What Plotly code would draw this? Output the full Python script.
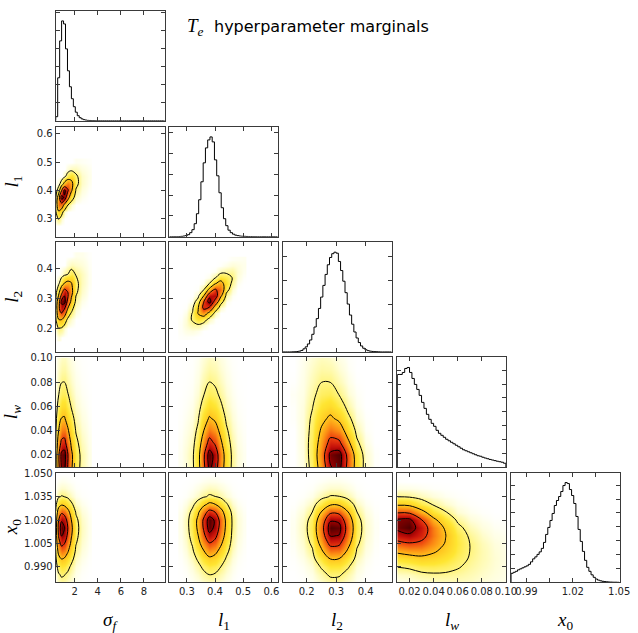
import numpy as np
import plotly.graph_objects as go

# ---------------- 1D marginal histograms (heights relative to peak) ----------------
sf_hist_lo, sf_hist_w = 0.35, 0.17
sf_hist = [0.04, 0.43, 0.80, 1.0, 0.97, 0.72, 0.50, 0.34, 0.22, 0.14, 0.085, 0.05,
           0.03, 0.018, 0.01, 0.006, 0.003, 0.002, 0.001, 0.001, 0, 0, 0, 0,
           0, 0, 0, 0, 0, 0, 0, 0, 0, 0, 0, 0, 0, 0, 0, 0,
           0, 0, 0, 0, 0, 0, 0, 0, 0, 0, 0, 0, 0, 0, 0, 0]

l1_hist_lo, l1_hist_w = 0.238, 0.008
l1_hist = [0, 0, 0, 0, 0.001, 0.003, 0.006, 0.011, 0.02, 0.04, 0.07, 0.13,
           0.23, 0.37, 0.55, 0.74, 0.89, 0.97, 1.0, 0.95, 0.77, 0.61, 0.44, 0.29,
           0.18, 0.11, 0.065, 0.04, 0.025, 0.015, 0.01, 0.006, 0.004, 0.003, 0.002, 0.001,
           0.001, 0, 0, 0, 0, 0, 0, 0, 0, 0, 0, 0]

l2_hist_lo, l2_hist_w = 0.12, 0.0075
l2_hist = [0, 0, 0, 0, 0.001, 0.002, 0.004, 0.008, 0.015, 0.031, 0.051, 0.08,
           0.12, 0.177, 0.25, 0.334, 0.436, 0.55, 0.667, 0.777, 0.874, 0.947, 0.985, 1.0,
           0.99, 0.907, 0.816, 0.709, 0.594, 0.48, 0.37, 0.278, 0.20, 0.14, 0.094, 0.06,
           0.037, 0.022, 0.013, 0.008, 0.005, 0.003, 0.002, 0.001, 0, 0, 0, 0, 0]

lw_hist_lo, lw_hist_w = 0.010, 0.002
lw_hist = [0.93, 0.93, 0.95, 0.99, 1.0, 0.95, 0.89, 0.83, 0.78, 0.72, 0.65, 0.59,
           0.53, 0.48, 0.44, 0.41, 0.37, 0.34, 0.32, 0.30, 0.28, 0.265, 0.25, 0.235,
           0.22, 0.205, 0.19, 0.175, 0.165, 0.155, 0.145, 0.135, 0.125, 0.115, 0.11, 0.10,
           0.092, 0.085, 0.078, 0.072, 0.066, 0.06, 0.055, 0.05, 0.04]

x0_hist_lo, x0_hist_w = 0.98, 0.0014
x0_hist = [0.09, 0.10, 0.11, 0.125, 0.135, 0.145, 0.155, 0.165, 0.18, 0.205, 0.235, 0.255,
           0.28, 0.305, 0.34, 0.40, 0.48, 0.55, 0.62, 0.69, 0.77, 0.82, 0.86, 0.91,
           0.97, 1.0, 0.99, 0.93, 0.87, 0.79, 0.66, 0.53, 0.41, 0.31, 0.22, 0.15,
           0.11, 0.075, 0.05, 0.033, 0.022, 0.015, 0.01, 0.007, 0.005, 0.003, 0.002, 0.001,
           0.001, 0.0]

# ---------------- 2D density grids (arbitrary units) ----------------
sf_grid = [0.35, 0.6, 0.85, 1.1, 1.4, 1.7, 2.1, 2.6, 3.2]
l1_grid = [0.28, 0.30, 0.32, 0.34, 0.36, 0.38, 0.40, 0.42, 0.44, 0.46, 0.48, 0.50]
l2_grid = [0.16, 0.19, 0.22, 0.25, 0.28, 0.31, 0.34, 0.37, 0.40, 0.43]
lw_grid = [0.01, 0.02, 0.03, 0.04, 0.05, 0.06, 0.07, 0.08, 0.09, 0.10]
x0_grid = [0.98, 0.985, 0.99, 0.995, 1.0, 1.005, 1.01, 1.015, 1.02, 1.025, 1.03, 1.035, 1.04, 1.045, 1.05]

# (sigma_f, l1): rows = l1 values, cols = sf_grid
A_l1_rows = [0.275, 0.30, 0.325, 0.35, 0.375, 0.40, 0.425, 0.45, 0.475, 0.50]
A_z = [
    [0, 0, 0, 0, 0, 0, 0, 0, 0],
    [2, 5, 1, 0, 0, 0, 0, 0, 0],
    [3, 20, 9, 1, 0, 0, 0, 0, 0],
    [5, 45, 43, 19, 5, 1, 0, 0, 0],
    [3, 38, 92, 77, 31, 9, 1.5, 0.3, 0],
    [1, 9, 53, 88, 59, 26, 4, 0.8, 0.1],
    [0, 1, 8, 27, 40, 30, 7, 1.5, 0.3],
    [0, 0, 0, 2, 9, 14, 6, 1.5, 0.4],
    [0, 0, 0, 0, 1, 2, 2, 0.8, 0.3],
    [0, 0, 0, 0, 0, 0, 0.3, 0.2, 0.1],
]

# (sigma_f, l2): rows = l2 values, cols = sf_grid
B_l2_rows = [0.17, 0.20, 0.23, 0.26, 0.29, 0.32, 0.35, 0.38, 0.41, 0.44]
B_z = [
    [0, 1, 0, 0, 0, 0, 0, 0, 0],
    [1, 5, 4, 1, 0, 0, 0, 0, 0],
    [3, 24, 25, 12, 3, 1, 0, 0, 0],
    [5, 48, 72, 52, 17, 6, 1, 0, 0],
    [4, 42, 90, 96, 48, 19, 3, 0.5, 0],
    [1, 16, 49, 77, 58, 31, 6, 1.5, 0.1],
    [0, 3, 12, 25, 31, 26, 7, 2, 0.3],
    [0, 0, 1, 3, 5, 9, 4.5, 2, 0.3],
    [0, 0, 0, 0, 1, 2, 1.5, 1, 0.2],
    [0, 0, 0, 0, 0, 0, 0.4, 0.4, 0.1],
]

# (l1, l2): rows = l2 values, cols = l1_grid
C_l2_rows = [0.17, 0.19, 0.21, 0.23, 0.25, 0.27, 0.29, 0.31, 0.33, 0.35, 0.37, 0.39, 0.41, 0.43]
C_z = [
    [0.1, 0.15, 0.1, 0, 0, 0, 0, 0, 0, 0, 0, 0],
    [0.2, 0.6, 0.8, 0.4, 0, 0, 0, 0, 0, 0, 0, 0],
    [0.2, 1.2, 3.1, 3.6, 1.3, 0.1, 0, 0, 0, 0, 0, 0],
    [0.1, 1.1, 5.9, 14, 10, 2, 0.1, 0, 0, 0, 0, 0],
    [0, 0.5, 5.3, 26, 39, 16, 2, 0, 0, 0, 0, 0],
    [0, 0.1, 2.2, 22, 68, 58, 14, 1.3, 0, 0, 0, 0],
    [0, 0, 0.4, 9, 57, 98, 49, 9, 0.4, 0, 0, 0],
    [0, 0, 0, 1.7, 22, 78, 80, 30, 2.7, 0.2, 0, 0],
    [0, 0, 0, 0.15, 4, 29, 62, 47, 8.6, 1.1, 0, 0],
    [0, 0, 0, 0, 0.35, 5, 22, 35, 13, 3.4, 0.3, 0],
    [0, 0, 0, 0, 0, 0.4, 3.7, 12, 9.2, 5, 0.85, 0.1],
    [0, 0, 0, 0, 0, 0, 0.3, 2, 3.1, 3.4, 1.2, 0.3],
    [0, 0, 0, 0, 0, 0, 0, 0.1, 0.5, 1.1, 0.8, 0.4],
    [0, 0, 0, 0, 0, 0, 0, 0, 0, 0.2, 0.25, 0.3],
]

# separable panels: profile along each axis
D_sf_prof = [0.06, 0.55, 0.95, 1.0, 0.62, 0.3, 0.1, 0.03, 0.006]
lw_prof_2d = [0.95, 1.0, 0.7, 0.45, 0.27, 0.15, 0.085, 0.05, 0.03, 0.018]
E_l1_prof = [0.003, 0.012, 0.03, 0.15, 0.55, 1.0, 0.8, 0.42, 0.14, 0.04, 0.01, 0.003]
G_sf_prof = [0.1, 0.7, 1.0, 0.9, 0.6, 0.3, 0.08, 0.02, 0.004]
x0_prof_2d = [0.03, 0.06, 0.12, 0.25, 0.45, 0.68, 0.9, 1.0, 0.85, 0.55, 0.22, 0.055, 0.015, 0.004, 0]
H_l1_prof = [0.005, 0.025, 0.1, 0.3, 0.65, 1.0, 0.85, 0.5, 0.2, 0.05, 0.012, 0.003]
H_x0_prof = [0.02, 0.05, 0.1, 0.2, 0.36, 0.57, 0.8, 0.96, 0.98, 0.7, 0.3, 0.06, 0.02, 0.005, 0]
I_l2_prof = [0.003, 0.02, 0.09, 0.45, 0.95, 0.92, 0.45, 0.09, 0.015, 0.002]

# (l2, lw): rows = lw_grid, cols = l2_grid
F_z = [
    [0, 0.7, 7, 34, 81, 91, 49, 13, 1.6, 0.1],
    [0, 0.8, 8, 39, 88, 94, 49, 12, 1.4, 0.1],
    [0, 0.9, 8, 33, 65, 62, 28, 6, 0.6, 0],
    [0, 0.9, 7, 26, 44, 36, 14, 2.7, 0.2, 0],
    [0.1, 0.9, 6, 18, 27, 19, 6.5, 1, 0.1, 0],
    [0.1, 0.8, 4.4, 11.6, 15, 9, 2.7, 0.4, 0, 0],
    [0.2, 0.6, 3.1, 7.2, 8.2, 4.4, 1.1, 0.2, 0, 0],
    [0.05, 0.5, 2.2, 4.6, 4.6, 2.2, 0.5, 0.05, 0, 0],
    [0, 0.4, 1.6, 2.9, 2.6, 1.1, 0.2, 0, 0, 0],
    [0, 0.3, 1.1, 1.8, 1.4, 0.5, 0.1, 0, 0, 0],
]

# (lw, x0): rows = x0_grid, cols = lw_grid
J_z = [
    [0.4, 0.5, 1.1, 1.5, 1.75, 1.8, 1.6, 1.0, 0.64, 0.4],
    [1.6, 2, 3.3, 4, 3.9, 3.4, 2.4, 1.5, 0.88, 0.5],
    [5.1, 6, 8.6, 8.9, 7.7, 5.5, 3.4, 2.0, 1.1, 0.55],
    [13, 15.5, 18.7, 17, 12.8, 7.9, 4.3, 2.4, 1.2, 0.6],
    [28.5, 33, 34, 27, 18.6, 9.9, 4.9, 2.5, 1.1, 0.55],
    [51, 57, 53, 38, 23, 10.9, 4.9, 2.2, 0.88, 0.45],
    [75, 82, 69, 44, 25, 10.2, 3.8, 1.5, 0.5, 0.3],
    [92, 98, 75, 43, 21, 7, 2.25, 0.8, 0.24, 0.15],
    [90, 92, 60, 29, 12.5, 3.6, 1.0, 0.34, 0.08, 0.05],
    [56, 54, 31, 13, 5.3, 1.3, 0.34, 0.1, 0, 0],
    [21, 19, 10, 4.1, 1.6, 0.4, 0.1, 0, 0, 0],
    [4.7, 4, 2.1, 0.9, 0.3, 0.1, 0, 0, 0, 0],
    [0.6, 0.5, 0.3, 0.1, 0.05, 0, 0, 0, 0, 0],
    [0.05, 0, 0, 0, 0, 0, 0, 0, 0, 0],
    [0, 0, 0, 0, 0, 0, 0, 0, 0, 0],
]

contour_levels = [0.05, 0.25, 0.6, 0.88]

# ---------------- axes description ----------------
params = ["sf", "l1", "l2", "lw", "x0"]
axis_range = {"sf": [0.35, 9.8], "l1": [0.2375, 0.624], "l2": [0.12, 0.489],
              "lw": [0.0098, 0.1002], "x0": [0.98, 1.0505]}
tick_vals_x = {"sf": [2, 4, 6, 8], "l1": [0.3, 0.4, 0.5, 0.6], "l2": [0.2, 0.3, 0.4],
               "lw": [0.02, 0.04, 0.06, 0.08, 0.10], "x0": [0.99, 1.02, 1.05]}
tick_text_x = {"sf": ["2", "4", "6", "8"], "l1": ["0.3", "0.4", "0.5", "0.6"],
               "l2": ["0.2", "0.3", "0.4"], "lw": ["0.02", "0.04", "0.06", "0.08", "0.10"],
               "x0": ["0.99", "1.02", "1.05"]}
tick_vals_y = {"sf": [2, 4, 6, 8], "l1": [0.3, 0.4, 0.5, 0.6], "l2": [0.2, 0.3, 0.4],
               "lw": [0.02, 0.04, 0.06, 0.08, 0.10], "x0": [0.99, 1.005, 1.02, 1.035, 1.05]}
tick_text_y = {"sf": ["2", "4", "6", "8"], "l1": ["0.3", "0.4", "0.5", "0.6"],
               "l2": ["0.2", "0.3", "0.4"], "lw": ["0.02", "0.04", "0.06", "0.08", "0.10"],
               "x0": ["0.990", "1.005", "1.020", "1.035", "1.050"]}
hist_dtick = {"sf": 0.181, "l1": 0.208, "l2": 0.238, "lw": 0.139, "x0": 0.139}
labels = {"sf": "<i>σ</i><sub><i>f</i></sub>", "l1": "<i>l</i><sub>1</sub>",
          "l2": "<i>l</i><sub>2</sub>", "lw": "<i>l</i><sub><i>w</i></sub>",
          "x0": "<i>x</i><sub>0</sub>"}

hists = {"sf": (sf_hist_lo, sf_hist_w, sf_hist), "l1": (l1_hist_lo, l1_hist_w, l1_hist),
         "l2": (l2_hist_lo, l2_hist_w, l2_hist), "lw": (lw_hist_lo, lw_hist_w, lw_hist),
         "x0": (x0_hist_lo, x0_hist_w, x0_hist)}

panels2d = {
    ("l1", "sf"): (sf_grid, A_l1_rows, np.array(A_z, float)),
    ("l2", "sf"): (sf_grid, B_l2_rows, np.array(B_z, float)),
    ("l2", "l1"): (l1_grid, C_l2_rows, np.array(C_z, float)),
    ("lw", "sf"): (sf_grid, lw_grid, np.outer(lw_prof_2d, D_sf_prof)),
    ("lw", "l1"): (l1_grid, lw_grid, np.outer(lw_prof_2d, E_l1_prof)),
    ("lw", "l2"): (l2_grid, lw_grid, np.array(F_z, float)),
    ("x0", "sf"): (sf_grid, x0_grid, np.outer(x0_prof_2d, G_sf_prof)),
    ("x0", "l1"): (l1_grid, x0_grid, np.outer(H_x0_prof, H_l1_prof)),
    ("x0", "l2"): (l2_grid, x0_grid, np.outer(x0_prof_2d, I_l2_prof)),
    ("x0", "lw"): (lw_grid, x0_grid, np.array(J_z, float)),
}

# ---------------- layout geometry (pixels) ----------------
W, H = 638, 633
col_left = [56.7, 172.2, 288.0, 404.2, 520.0]
row_top = [6.0, 122.9, 239.1, 355.3, 471.3]
PW, PH = 110.8, 110.6

heat_scale = [[0.0, "rgb(255,255,255)"], [0.004, "rgb(255,255,235)"], [0.02, "rgb(255,252,190)"],
              [0.05, "rgb(255,245,128)"], [0.12, "rgb(255,230,50)"], [0.25, "rgb(255,195,30)"],
              [0.4, "rgb(252,140,20)"], [0.6, "rgb(235,60,15)"], [0.78, "rgb(195,15,10)"],
              [0.9, "rgb(140,0,0)"], [1.0, "rgb(80,0,0)"]]

FRAME = "#3a3a3a"
common = dict(showline=True, linecolor=FRAME, linewidth=1, mirror="ticks", ticks="inside",
              ticklen=4, tickwidth=1, tickcolor=FRAME, showgrid=False, zeroline=False,
              fixedrange=True, tickangle=0,
              tickfont=dict(family="DejaVu Sans", size=10, color="#222"))

fig = go.Figure()
layout = {}
k = 0
for r in range(5):
    for c in range(r + 1):
        k += 1
        xn = "x" if k == 1 else f"x{k}"
        yn = "y" if k == 1 else f"y{k}"
        cp, rp = params[c], params[r]
        xa = dict(common, domain=[col_left[c] / W, (col_left[c] + PW) / W], anchor=yn,
                  range=axis_range[cp], tickmode="array", tickvals=tick_vals_x[cp],
                  ticktext=tick_text_x[cp], showticklabels=(r == 4))
        if cp == "x0":
            xa["minor"] = dict(ticks="inside", tick0=0.99, dtick=0.015, ticklen=4,
                               tickwidth=1, tickcolor=FRAME, showgrid=False)
        if r == c:
            lo, w, h = hists[cp]
            n = len(h)
            edges = lo + w * np.arange(n + 1)
            xs = [edges[0]] + list(edges[:n]) + [edges[n]]
            ys = [0.0] + list(h) + [0.0]
            fig.add_trace(go.Scatter(x=xs, y=ys, mode="lines", line=dict(color="black", width=1, shape="hv"),
                                     hoverinfo="skip", showlegend=False, xaxis=xn, yaxis=yn))
            ya = dict(common, domain=[1 - (row_top[r] + PH) / H, 1 - row_top[r] / H], anchor=xn,
                      range=[0, 1.1], tick0=0, dtick=hist_dtick[cp], showticklabels=False)
        else:
            xv, yv, z = panels2d[(rp, cp)]
            zn = z / z.max()
            fig.add_trace(go.Heatmap(x=xv, y=yv, z=zn, zsmooth="best", colorscale=heat_scale,
                                     zmin=0, zmax=1, showscale=False, hoverinfo="skip",
                                     xaxis=xn, yaxis=yn))
            for L in contour_levels:
                fig.add_trace(go.Contour(x=xv, y=yv, z=zn, autocontour=False,
                                         contours=dict(start=L, end=L, size=1, coloring="lines"),
                                         colorscale=[[0, "black"], [1, "black"]],
                                         line=dict(width=1), showscale=False, hoverinfo="skip",
                                         xaxis=xn, yaxis=yn))
            ya = dict(common, domain=[1 - (row_top[r] + PH) / H, 1 - row_top[r] / H], anchor=xn,
                      range=axis_range[rp], tickmode="array", tickvals=tick_vals_y[rp],
                      ticktext=tick_text_y[rp], showticklabels=(c == 0))
        layout["xaxis" if k == 1 else f"xaxis{k}"] = xa
        layout["yaxis" if k == 1 else f"yaxis{k}"] = ya

annotations = []
LABEL_FONT = dict(family="Liberation Serif", size=19, color="black")
for c, p in enumerate(params):
    annotations.append(dict(text=labels[p], xref="paper", yref="paper",
                            x=(col_left[c] + PW / 2) / W, y=1 - 621 / H,
                            xanchor="center", yanchor="middle", showarrow=False, font=LABEL_FONT))
for r, p in enumerate(params):
    if r == 0:
        continue
    annotations.append(dict(text=labels[p], xref="paper", yref="paper",
                            x=13 / W, y=1 - (row_top[r] + PH / 2) / H, textangle=-90,
                            xanchor="center", yanchor="middle", showarrow=False, font=LABEL_FONT))
annotations.append(dict(text="<i>T</i><sub><i>e</i></sub>", xref="paper", yref="paper",
                        x=210 / W, y=1 - 22 / H, xanchor="right", yanchor="middle", showarrow=False,
                        font=dict(family="Liberation Serif", size=19, color="black")))
annotations.append(dict(text="hyperparameter marginals", xref="paper", yref="paper",
                        x=216 / W, y=1 - 22 / H, xanchor="left", yanchor="middle", showarrow=False,
                        font=dict(family="DejaVu Sans", size=16, color="black")))

fig.update_layout(width=W, height=H, margin=dict(l=0, r=0, t=0, b=0), autosize=False,
                  paper_bgcolor="white", plot_bgcolor="white", showlegend=False,
                  annotations=annotations, **layout)
fig.write_html("out.html")
